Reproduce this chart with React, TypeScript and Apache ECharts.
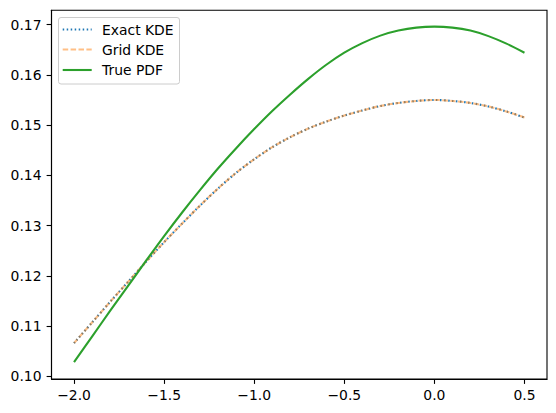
import React, { useEffect, useRef } from "react";
import * as echarts from "echarts";

const xValues = [-2.0, -1.9, -1.8, -1.7, -1.6, -1.5, -1.4, -1.3, -1.2, -1.1, -1.0, -0.9, -0.8, -0.7, -0.6, -0.5, -0.4, -0.3, -0.2, -0.1, 0.0, 0.1, 0.2, 0.3, 0.4, 0.5];
const exactKde = [0.1066, 0.1107, 0.1148, 0.1188, 0.1228, 0.1267, 0.1304, 0.1340, 0.1374, 0.1405, 0.1432, 0.1456, 0.1476, 0.1493, 0.1507, 0.1519, 0.1529, 0.1538, 0.1544, 0.1548, 0.1550, 0.1548, 0.1544, 0.1537, 0.1527, 0.1515];
const gridKde = [0.1066, 0.1107, 0.1148, 0.1188, 0.1228, 0.1267, 0.1304, 0.1340, 0.1374, 0.1405, 0.1432, 0.1456, 0.1476, 0.1493, 0.1507, 0.1519, 0.1529, 0.1538, 0.1544, 0.1548, 0.1550, 0.1548, 0.1544, 0.1537, 0.1527, 0.1515];
const truePdf = [0.1028, 0.1079, 0.1130, 0.1180, 0.1230, 0.1279, 0.1326, 0.1371, 0.1414, 0.1454, 0.1492, 0.1528, 0.1561, 0.1592, 0.1620, 0.1644, 0.1663, 0.1678, 0.1688, 0.1694, 0.1696, 0.1694, 0.1688, 0.1677, 0.1662, 0.1644];
const xTicks = [-2.0, -1.5, -1.0, -0.5, 0.0, 0.5];
const yTicks = [0.10, 0.11, 0.12, 0.13, 0.14, 0.15, 0.16, 0.17];
const seriesNames = ["Exact KDE", "Grid KDE", "True PDF"];

const FONT = "DejaVu Sans";

const fmtX = (v: number) => (v < 0 ? "\u2212" : "") + Math.abs(v).toFixed(1);
const fmtY = (v: number) => v.toFixed(2);

export default function App() {
  const ref = useRef<HTMLDivElement>(null);
  useEffect(() => {
    if (!ref.current) return;
    const chart = echarts.init(ref.current, null, { renderer: "svg" });
    const pair = (ys: number[]) => xValues.map((x, i) => [x, ys[i]]);
    const legendRows = [
      { y: 29.5, name: seriesNames[0], color: "#1f77b4", opacity: 1, dash: [1.5, 2.5] },
      { y: 49.5, name: seriesNames[1], color: "#ff7f0e", opacity: 0.5, dash: [5.5, 2.4] },
      { y: 70, name: seriesNames[2], color: "#2ca02c", opacity: 1, dash: null },
    ];
    const legendElems: any[] = [
      {
        type: "rect",
        shape: { x: 58.5, y: 17.5, width: 121, height: 66.5, r: 2.5 },
        style: { fill: "rgba(255,255,255,0.8)", stroke: "#cccccc", lineWidth: 1 },
        z: 100,
      },
    ];
    legendRows.forEach((r) => {
      legendElems.push({
        type: "line",
        shape: { x1: 62.7, y1: r.y, x2: 91.7, y2: r.y },
        style: { stroke: r.color, lineWidth: 2.1, lineDash: r.dash || undefined, opacity: r.opacity },
        z: 101,
      });
      legendElems.push({
        type: "text",
        x: 102,
        y: r.y,
        style: { text: r.name, fill: "#000", font: `13.9px '${FONT}'`, textVerticalAlign: "middle", verticalAlign: "middle" },
        z: 101,
      });
    });
    chart.setOption({
      animation: false,
      backgroundColor: "#ffffff",
      grid: {
        left: 51.5,
        top: 10.3,
        width: 495.5,
        height: 368.7,
        show: true,
        borderColor: "#000",
        borderWidth: 1.1,
        backgroundColor: "transparent",
      },
      xAxis: {
        type: "value",
        min: -2.125,
        max: 0.625,
        splitLine: { show: false },
        axisLine: { show: true, onZero: false, lineStyle: { color: "#000", width: 1.1 } },
        axisTick: { show: true, length: 4.9, lineStyle: { color: "#000", width: 1.1 }, customValues: xTicks },
        axisLabel: {
          customValues: xTicks,
          formatter: fmtX,
          color: "#000",
          fontFamily: FONT,
          fontSize: 13.9,
          margin: 9,
        },
      },
      yAxis: {
        type: "value",
        min: 0.09946,
        max: 0.17284,
        splitLine: { show: false },
        axisLine: { show: true, onZero: false, lineStyle: { color: "#000", width: 1.1 } },
        axisTick: { show: true, length: 4.9, lineStyle: { color: "#000", width: 1.1 }, customValues: yTicks },
        axisLabel: {
          customValues: yTicks,
          formatter: fmtY,
          color: "#000",
          fontFamily: FONT,
          fontSize: 13.9,
          margin: 10,
        },
      },
      series: [
        {
          name: seriesNames[0],
          type: "line",
          data: pair(exactKde),
          showSymbol: false,
          smooth: 0.3,
          lineStyle: { color: "#1f77b4", width: 2.1, type: [1.5, 2.5], cap: "butt" },
          z: 2,
        },
        {
          name: seriesNames[1],
          type: "line",
          data: pair(gridKde),
          showSymbol: false,
          smooth: 0.3,
          lineStyle: { color: "#ff7f0e", width: 2.1, type: [5.5, 2.4], opacity: 0.5, cap: "butt" },
          z: 3,
        },
        {
          name: seriesNames[2],
          type: "line",
          data: pair(truePdf),
          showSymbol: false,
          smooth: 0.3,
          lineStyle: { color: "#2ca02c", width: 2.1, type: "solid" },
          z: 4,
        },
      ],
      graphic: legendElems,
    });
    return () => chart.dispose();
  }, []);
  return (
    <div
      ref={ref}
      style={{ position: "absolute", left: 0, top: 0, width: 556, height: 413 }}
    />
  );
}
